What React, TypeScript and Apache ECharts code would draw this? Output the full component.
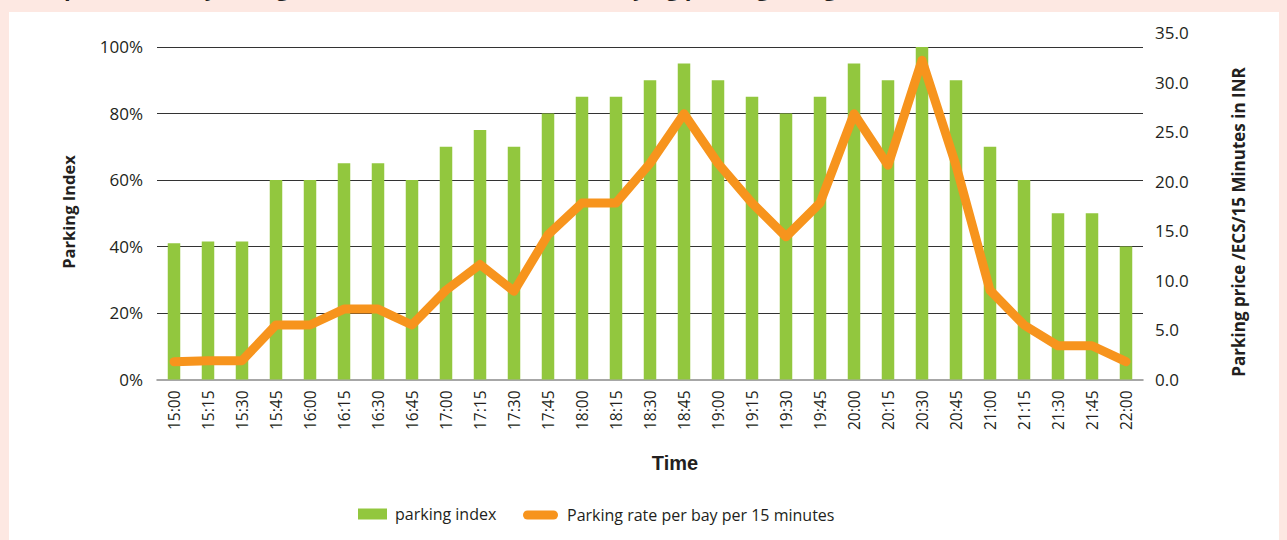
import React, { useEffect, useRef } from "react";
import * as echarts from "echarts";

const categories = [
  "15:00", "15:15", "15:30", "15:45", "16:00", "16:15", "16:30", "16:45",
  "17:00", "17:15", "17:30", "17:45", "18:00", "18:15", "18:30", "18:45",
  "19:00", "19:15", "19:30", "19:45", "20:00", "20:15", "20:30", "20:45",
  "21:00", "21:15", "21:30", "21:45", "22:00",
];
const parkingIndex = [
  41, 41.5, 41.5, 60, 60, 65, 65, 60, 70, 75, 70, 80, 85, 85, 90, 95, 90, 85,
  80, 85, 95, 90, 100, 90, 70, 60, 50, 50, 40,
];
const parkingRate = [
  1.8, 1.9, 1.9, 5.5, 5.5, 7.1, 7.1, 5.5, 9.0, 11.6, 8.9, 14.6, 17.8, 17.8,
  21.8, 26.8, 21.8, 17.8, 14.4, 17.8, 26.8, 21.6, 32.2, 21.6, 9.0, 5.5, 3.4,
  3.4, 1.8,
];
const leftTicks = [0, 20, 40, 60, 80, 100];
const rightTicks = [0, 5, 10, 15, 20, 25, 30, 35];

const barName = "parking index";
const lineName = "Parking rate per bay per 15 minutes";
const titleText = "Impact of hourly change in demand over time with varying parking charges";

const GREEN = "#92c73e";
const ORANGE = "#f7941d";
const TEXT = "#231f20";
const HUMANIST = "'Open Sans', 'Noto Sans', sans-serif";

export default function App() {
  const ref = useRef<HTMLDivElement>(null);
  useEffect(() => {
    document.body.style.margin = "0";
    const chart = echarts.init(ref.current!, null, { renderer: "svg" });
    chart.setOption({
      animation: false,
      backgroundColor: "#fde8e2",
      graphic: [
        { type: "rect", z: -10, shape: { x: 9, y: 12, width: 1270, height: 528 }, style: { fill: "#ffffff" } },
        {
          type: "text", x: 35, y: -13,
          style: { text: titleText, font: `bold 22px ${HUMANIST}`, fill: TEXT, align: "left", verticalAlign: "middle" },
        },
        {
          type: "text", x: 68, y: 212, rotation: Math.PI / 2,
          style: { text: "Parking Index", font: `bold 16.5px ${HUMANIST}`, fill: TEXT, align: "center", verticalAlign: "middle" },
        },
        {
          type: "text", x: 1238, y: 222, rotation: Math.PI / 2,
          style: { text: "Parking price /ECS/15 Minutes in INR", font: `bold 17px ${HUMANIST}`, fill: TEXT, align: "center", verticalAlign: "middle" },
        },
        {
          type: "text", x: 675, y: 463,
          style: { text: "Time", font: "bold 20px 'Liberation Sans', Arial, sans-serif", fill: TEXT, align: "center", verticalAlign: "middle" },
        },
      ],
      legend: [
        {
          left: 358, top: 506, padding: 0, itemWidth: 29, itemHeight: 11,
          data: [{ name: barName, icon: "rect" }],
          textStyle: { fontFamily: HUMANIST, fontSize: 16, color: TEXT, padding: [0, 0, 0, 3] },
          selectedMode: false,
        },
        {
          left: 523, top: 507, padding: 0, itemWidth: 35, itemHeight: 9,
          data: [{ name: lineName, icon: "path://M4.5,0 H30.5 A4.5,4.5 0 0 1 30.5,9 H4.5 A4.5,4.5 0 0 1 4.5,0 Z" }],
          textStyle: { fontFamily: HUMANIST, fontSize: 16, color: TEXT, padding: [0, 0, 0, 4] },
          selectedMode: false,
        },
      ],
      grid: { left: 157, right: 144, top: 32.5, bottom: 160.5, containLabel: false },
      xAxis: {
        type: "category",
        data: categories,
        axisLine: { show: true, lineStyle: { color: "#8a8a8a", width: 1.5 } },
        axisTick: { show: false },
        axisLabel: {
          rotate: 90, margin: 11, interval: 0,
          fontFamily: HUMANIST, fontSize: 15.5, color: TEXT,
        },
      },
      yAxis: [
        {
          type: "value",
          min: 0,
          max: 104.36,
          interval: 20,
          axisLine: { show: false },
          axisTick: { show: false },
          splitLine: { show: true, showMaxLine: false, showMinLine: false, lineStyle: { color: "#333333", width: 1 } },
          axisLabel: {
            margin: 14, fontFamily: HUMANIST, fontSize: 17, color: TEXT,
            formatter: (v: number) => (leftTicks.includes(Math.round(v * 1000) / 1000) ? `${v}%` : ""),
          },
        },
        {
          type: "value",
          min: 0,
          max: 35,
          interval: 5,
          position: "right",
          axisLine: { show: false },
          axisTick: { show: false },
          splitLine: { show: false },
          axisLabel: {
            margin: 12, fontFamily: HUMANIST, fontSize: 17, color: TEXT,
            formatter: (v: number) => (rightTicks.includes(v) ? v.toFixed(1) : ""),
          },
        },
      ],
      series: [
        {
          name: barName,
          type: "bar",
          data: parkingIndex,
          barWidth: 12.5,
          itemStyle: { color: GREEN },
          z: 2,
        },
        {
          name: lineName,
          type: "line",
          yAxisIndex: 1,
          data: parkingRate,
          showSymbol: false,
          symbol: "none",
          lineStyle: { color: ORANGE, width: 9, cap: "round", join: "round" },
          itemStyle: { color: ORANGE },
          z: 3,
        },
      ],
    });
    return () => chart.dispose();
  }, []);
  return <div ref={ref} style={{ width: 1287, height: 540, position: "absolute", left: 0, top: 0 }} />;
}
